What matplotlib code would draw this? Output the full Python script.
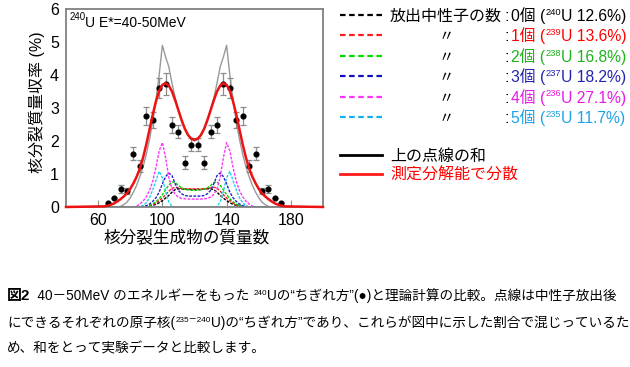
import matplotlib
matplotlib.use('Agg')
import matplotlib.pyplot as plt
from matplotlib.lines import Line2D

plt.rcParams['font.family'] = ['Liberation Sans', 'Noto Sans CJK JP', 'DejaVu Sans']

mass = [40] + list(range(64, 178, 2)) + [200]

# sum of the dotted curves (gray)
sum_calc = [0,
            0, 0, 0, 0, 0, 0.02, 0.07, 0.15, 0.28, 0.45,
            0.66, 0.92, 1.22, 1.6, 2.05, 2.6, 3.25, 4.0, 4.9, 4.55,
            4.25, 3.75, 3.3, 2.92, 2.6, 2.36, 2.18, 2.05, 2.0,
            2.05, 2.18, 2.36, 2.6, 2.92, 3.3, 3.75, 4.25, 4.55, 4.9,
            4.0, 3.25, 2.6, 2.05, 1.6, 1.22, 0.92, 0.66, 0.45, 0.28,
            0.15, 0.07, 0.02, 0, 0, 0, 0, 0,
            0]
# sum folded with the measurement resolution (red)
resolved = [0,
            0.02, 0.04, 0.07, 0.11, 0.17, 0.24, 0.32, 0.42, 0.55, 0.72,
            0.92, 1.17, 1.5, 1.9, 2.35, 2.8, 3.2, 3.52, 3.7, 3.75,
            3.68, 3.5, 3.23, 2.93, 2.63, 2.37, 2.18, 2.07, 2.04,
            2.07, 2.18, 2.37, 2.63, 2.93, 3.23, 3.5, 3.68, 3.75, 3.7,
            3.52, 3.2, 2.8, 2.35, 1.9, 1.5, 1.17, 0.92, 0.72, 0.55,
            0.42, 0.32, 0.24, 0.17, 0.11, 0.07, 0.04, 0.02,
            0]
# components after emission of 0..5 neutrons
n0 = [0,
      0, 0, 0, 0, 0, 0, 0, 0, 0, 0,
      0, 0, 0, 0.01, 0.02, 0.05, 0.08, 0.13, 0.19, 0.27,
      0.35, 0.45, 0.53, 0.55, 0.55, 0.54, 0.53, 0.53, 0.53,
      0.53, 0.53, 0.54, 0.55, 0.55, 0.53, 0.45, 0.35, 0.27, 0.19,
      0.13, 0.08, 0.05, 0.02, 0.01, 0, 0, 0, 0, 0,
      0, 0, 0, 0, 0, 0, 0, 0,
      0]
n1 = [0,
      0, 0, 0, 0, 0, 0, 0, 0, 0, 0,
      0, 0, 0, 0.01, 0.03, 0.06, 0.12, 0.19, 0.27, 0.37,
      0.48, 0.57, 0.6, 0.58, 0.56, 0.55, 0.55, 0.55, 0.55,
      0.55, 0.55, 0.55, 0.56, 0.58, 0.6, 0.57, 0.48, 0.37, 0.27,
      0.19, 0.12, 0.06, 0.03, 0.01, 0, 0, 0, 0, 0,
      0, 0, 0, 0, 0, 0, 0, 0,
      0]
n2 = [0,
      0, 0, 0, 0, 0, 0, 0, 0, 0, 0,
      0, 0, 0.01, 0.02, 0.05, 0.09, 0.16, 0.25, 0.37, 0.52,
      0.66, 0.76, 0.74, 0.65, 0.58, 0.54, 0.52, 0.51, 0.5,
      0.51, 0.52, 0.54, 0.58, 0.65, 0.74, 0.76, 0.66, 0.52, 0.37,
      0.25, 0.16, 0.09, 0.05, 0.02, 0.01, 0, 0, 0, 0,
      0, 0, 0, 0, 0, 0, 0, 0,
      0]
n3 = [0,
      0, 0, 0, 0, 0, 0, 0, 0, 0, 0,
      0, 0, 0.02, 0.04, 0.09, 0.17, 0.28, 0.45, 0.7, 0.92,
      1.03, 0.95, 0.7, 0.5, 0.4, 0.35, 0.33, 0.33, 0.33,
      0.33, 0.33, 0.35, 0.4, 0.5, 0.7, 0.95, 1.03, 0.92, 0.7,
      0.45, 0.28, 0.17, 0.09, 0.04, 0.02, 0, 0, 0, 0,
      0, 0, 0, 0, 0, 0, 0, 0,
      0]
n4 = [0,
      0, 0, 0, 0, 0, 0, 0, 0, 0, 0,
      0.03, 0.09, 0.18, 0.31, 0.5, 0.78, 1.2, 1.7, 1.95, 1.5,
      0.9, 0.55, 0.38, 0.3, 0.26, 0.25, 0.24, 0.24, 0.24,
      0.24, 0.24, 0.25, 0.26, 0.3, 0.38, 0.55, 0.9, 1.5, 1.95,
      1.7, 1.2, 0.78, 0.5, 0.31, 0.18, 0.09, 0.03, 0, 0,
      0, 0, 0, 0, 0, 0, 0, 0,
      0]
n5 = [0,
      0, 0, 0, 0, 0, 0, 0, 0, 0, 0,
      0, 0, 0.05, 0.13, 0.28, 0.52, 0.8, 1.08, 0.88, 0.48,
      0.15, 0.02, 0, 0, 0, 0, 0, 0, 0,
      0, 0, 0, 0, 0, 0, 0.02, 0.15, 0.48, 0.88,
      1.08, 0.8, 0.52, 0.28, 0.13, 0.05, 0, 0, 0, 0,
      0, 0, 0, 0, 0, 0, 0, 0,
      0]

# measured yields (black dots)
exp_mass = list(range(66, 175, 4))
exp_yield = [0.11, 0.27, 0.55, 0.48, 1.62, 1.24, 2.76, 2.63, 3.61, 3.72,
             2.49, 2.28, 1.34, 1.89, 1.89, 1.34, 2.28, 2.49, 3.72, 3.61,
             2.63, 2.76, 1.24, 1.62, 0.48, 0.55, 0.27, 0.11]
exp_err = [0, 0, 0.12, 0.1, 0.21, 0.18, 0.26, 0.25, 0.31, 0.33,
           0.25, 0.2, 0.2, 0.2, 0.2, 0.2, 0.2, 0.25, 0.33, 0.31,
           0.25, 0.26, 0.18, 0.21, 0.1, 0.12, 0, 0]

# legend entries
n_labels = ['0個', '1個', '2個', '3個', '4個', '5個']
isotopes = ['240', '239', '238', '237', '236', '235']
shares = ['12.6%', '13.6%', '16.8%', '18.2%', '27.1%', '11.7%']
curve_colors = ['black', '#ff1a1a', '#00cc00', '#2020d0', '#ff33ff', '#20d0f0']
text_colors = ['black', '#ff0000', '#1db31d', '#2323b0', '#e619e6', '#1aa3e8']
legend_line_colors = ['black', '#ff1a1a', '#00dd00', '#1010c0', '#ff33ff', '#10b0f0']

W, H = 630, 367
fig = plt.figure(figsize=(W / 100, H / 100), dpi=100)
ax = fig.add_axes([66 / W, 1 - 207 / H, 257 / W, 198 / H])

for comp, c in zip([n0, n1, n2, n3, n4, n5], curve_colors):
    ax.plot(mass, comp, color=c, lw=1.0, ls=(0, (2, 1)))
ax.plot(mass, sum_calc, color='#999999', lw=1.0)
ax.errorbar(exp_mass, exp_yield, yerr=exp_err, fmt='o', color='black', ms=3.4,
            ecolor='#8c8c8c', elinewidth=0.9, capsize=2.5, capthick=0.9, zorder=5)
ax.plot(mass, resolved, color='#ee1111', lw=1.8, clip_on=False, zorder=6)

ax.set_xlim(40, 200)
ax.set_ylim(0, 6)
ax.set_xticks([60, 100, 140, 180])
ax.set_yticks(range(7))
ax.tick_params(axis='x', direction='in', length=5, color='#909090', labelsize=11.5, pad=4)
ax.tick_params(axis='y', length=0, labelsize=11.5, pad=5)
for sp in ax.spines.values():
    sp.set_color('#808080')
    sp.set_linewidth(1.3)

fig.text(187 / W, 1 - 238 / H, '核分裂生成物の質量数', fontsize=12, ha='center', va='center')
fig.text(37 / W, 1 - 102 / H, '核分裂質量収率 (%)', fontsize=11.5, rotation=90,
         ha='center', va='center')

fig.text(70 / W, 1 - 20 / H, '240', fontsize=7, va='baseline')
fig.text(85 / W, 1 - 27 / H, 'U E*=40-50MeV', fontsize=10, va='baseline')


def rich(x, y, parts, size):
    # chain coloured pieces of text; x, y in pixels from the top left, y = baseline
    text, color, kind = parts[0]
    first = fig.text(x / W, 1 - y / H, text, color=color, va='baseline',
                     fontsize=size * 1.1 if kind == 'b' else size,
                     fontweight='bold' if kind == 'b' else 'normal')
    prev = first
    for text, color, kind in parts[1:]:
        sup = kind == 's'
        prev = ax.annotate(text, xy=(1, 0), xycoords=(prev, first),
                           xytext=(0, 0.46 * size if sup else 0), textcoords='offset points',
                           fontsize=0.6 * size if sup else size, color=color, va='bottom',
                           annotation_clip=False)
    return first


# legend at the right
for i in range(6):
    yc = 15 + 20.4 * i
    fig.add_artist(Line2D([340 / W, 382 / W], [1 - yc / H] * 2, color=legend_line_colors[i],
                          lw=1.6, dashes=(2.5, 1.6)))
    if i == 0:
        fig.text(390 / W, 1 - (yc + 6) / H, '放出中性子の数', fontsize=11.5, va='baseline')
    else:
        fig.text(446 / W, 1 - (yc + 6) / H, '〃', fontsize=11, ha='center', va='baseline')
    fig.text(504 / W, 1 - (yc + 6) / H, ':', fontsize=11.5, va='baseline')
    c = text_colors[i]
    rich(511, yc + 6, [(n_labels[i] + ' (', c, 'n'), (isotopes[i], c, 's'),
                       ('U ' + shares[i] + ')', c, 'n')], 11.3)

fig.add_artist(Line2D([340 / W, 382 / W], [1 - 155 / H] * 2, color='black', lw=2))
fig.add_artist(Line2D([340 / W, 382 / W], [1 - 174 / H] * 2, color='#ff1a1a', lw=2))
fig.text(390 / W, 1 - 161 / H, '上の点線の和', fontsize=11.5, va='baseline')
fig.text(390 / W, 1 - 180 / H, '測定分解能で分散', fontsize=11.5, va='baseline', color='#ff0000')

# caption
cap = 9.8
rich(7, 300, [('図2', 'black', 'b'), ('  40－50MeV のエネルギーをもった ', 'black', 'n'),
              ('240', 'black', 's'),
              ('Uの“ちぎれ方”(●)と理論計算の比較。点線は中性子放出後', 'black', 'n')], cap)
rich(7, 327, [('にできるそれぞれの原子核(', 'black', 'n'), ('235－240', 'black', 's'),
              ('U)の“ちぎれ方”であり、これらが図中に示した割合で混じっているた', 'black', 'n')], cap)
rich(7, 353, [('め、和をとって実験データと比較します。', 'black', 'n')], cap)

fig.savefig('out.png', dpi=100)
